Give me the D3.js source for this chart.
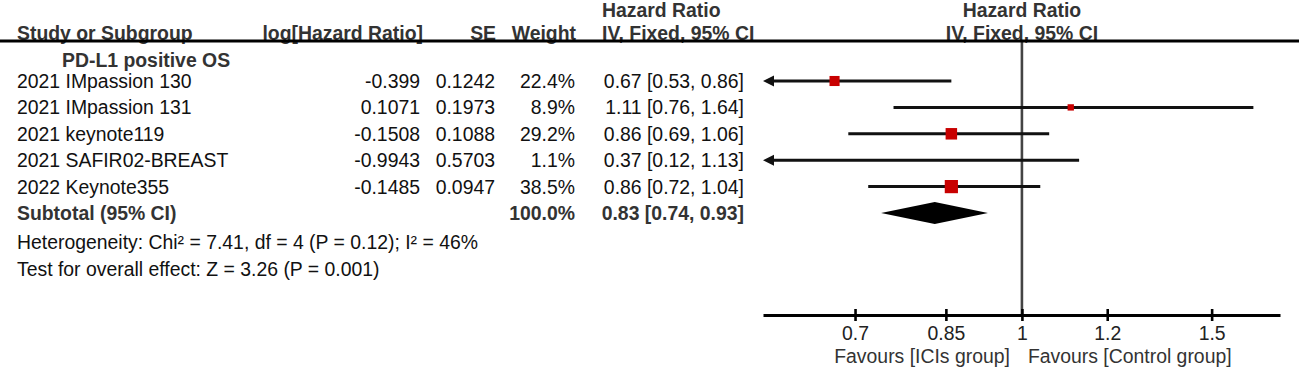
<!DOCTYPE html>
<html><head><meta charset="utf-8">
<script src="https://cdn.jsdelivr.net/npm/d3@7"></script>
<style>
html,body{margin:0;padding:0;background:#fff;}
svg{display:block;font-family:"Liberation Sans",Arial,sans-serif;}
</style></head>
<body>
<svg id="chart" width="1299" height="369"></svg>
<script>
const studies = ["2021 IMpassion 130","2021 IMpassion 131","2021 keynote119","2021 SAFIR02-BREAST","2022 Keynote355"];
const logHR = ["-0.399","0.1071","-0.1508","-0.9943","-0.1485"];
const seVals = ["0.1242","0.1973","0.1088","0.5703","0.0947"];
const weights = [22.4, 8.9, 29.2, 1.1, 38.5];
const hr = [0.67, 1.11, 0.86, 0.37, 0.86];
const ciLow = [0.53, 0.76, 0.69, 0.12, 0.72];
const ciHigh = [0.86, 1.64, 1.06, 1.13, 1.04];
const totalHR = 0.83, totalLow = 0.74, totalHigh = 0.93, totalWeight = 100.0;
const tickValues = [0.7, 0.85, 1, 1.2, 1.5];
const tickLabels = ["0.7","0.85","1","1.2","1.5"];
const groupLabel = "PD-L1 positive OS";
const heterogeneity = "Heterogeneity: Chi² = 7.41, df = 4 (P = 0.12); I² = 46%";
const overallEffect = "Test for overall effect: Z = 3.26 (P = 0.001)";
const favLeft = "Favours [ICIs group]", favRight = "Favours [Control group]";

const svg = d3.select("#chart");
const FS = 19.4;
const x = d3.scaleLog().domain([0.575, 1.736]).range([763, 1280]);
const rowY = i => 81 + i * 26.4;          // text/mark centre
const base = c => c + 7;                   // baseline from centre
const sizeS = d3.scaleSqrt().domain([0, 38.5]).range([0, 13.2]);
const headCol = "#333", bodyCol = "#111";

function txt(s, xx, cy, anchor, bold, col, fs) {
  svg.append("text").attr("x", xx).attr("y", base(cy))
    .attr("text-anchor", anchor || "start")
    .attr("font-size", fs || FS)
    .attr("font-weight", bold ? "bold" : "normal")
    .attr("fill", col || bodyCol).text(s);
}

// headers
txt("Hazard Ratio", 602, 9.5, "start", true, headCol);
txt("Hazard Ratio", x(1), 9.5, "middle", true, headCol);
txt("Study or Subgroup", 17, 33, "start", true, headCol);
txt("log[Hazard Ratio]", 423, 33, "end", true, headCol);
txt("SE", 496, 33, "end", true, headCol);
txt("Weight", 576, 33, "end", true, headCol);
txt("IV, Fixed, 95% CI", 602, 33, "start", true, headCol);
txt("IV, Fixed, 95% CI", x(1), 33, "middle", true, headCol);

// null line
svg.append("line").attr("x1", x(1)).attr("x2", x(1)).attr("y1", 41).attr("y2", 315)
  .attr("stroke", "#444").attr("stroke-width", 2.6);

// header rule
svg.append("line").attr("x1", 0).attr("x2", 1299).attr("y1", 41).attr("y2", 41)
  .attr("stroke", "#000").attr("stroke-width", 3);

txt(groupLabel, 62, 60, "start", true, headCol);

const [dMin, dMax] = x.domain();
studies.forEach((s, i) => {
  const cy = rowY(i);
  txt(s, 17, cy, "start");
  txt(logHR[i], 420, cy, "end");
  txt(seVals[i], 495, cy, "end");
  txt(weights[i].toFixed(1) + "%", 575, cy, "end");
  txt(hr[i].toFixed(2) + " [" + ciLow[i].toFixed(2) + ", " + ciHigh[i].toFixed(2) + "]", 744, cy, "end");

  const lo = Math.max(ciLow[i], dMin), hi = Math.min(ciHigh[i], dMax);
  const x1 = x(lo) + (ciLow[i] < dMin ? 8 : 0);
  const x2 = x(hi) - (ciHigh[i] > dMax ? 8 : 0);
  svg.append("line").attr("x1", x1).attr("x2", x2).attr("y1", cy).attr("y2", cy)
    .attr("stroke", "#111").attr("stroke-width", 3);
  if (ciLow[i] < dMin) {
    const ax = x(dMin);
    svg.append("path").attr("d", `M${ax},${cy} L${ax + 11},${cy - 5.5} L${ax + 11},${cy + 5.5} Z`).attr("fill", "#111");
  }
  if (ciHigh[i] > dMax) {
    const ax = x(dMax);
    svg.append("path").attr("d", `M${ax},${cy} L${ax - 11},${cy - 5.5} L${ax - 11},${cy + 5.5} Z`).attr("fill", "#111");
  }
  if (hr[i] >= dMin && hr[i] <= dMax) {
    const sz = sizeS(weights[i]);
    svg.append("rect").attr("x", x(hr[i]) - sz / 2).attr("y", cy - sz / 2)
      .attr("width", sz).attr("height", sz).attr("fill", "#c80000");
  }
});

// subtotal
const sy = rowY(5);
txt("Subtotal (95% CI)", 17, sy, "start", true, headCol);
txt(totalWeight.toFixed(1) + "%", 575, sy, "end", true, headCol);
txt(totalHR.toFixed(2) + " [" + totalLow.toFixed(2) + ", " + totalHigh.toFixed(2) + "]", 744, sy, "end", true, headCol);
svg.append("path")
  .attr("d", `M${x(totalLow)},${sy} L${x(totalHR)},${sy - 11} L${x(totalHigh)},${sy} L${x(totalHR)},${sy + 11} Z`)
  .attr("fill", "#000");

txt(heterogeneity, 17, 242, "start");
txt(overallEffect, 17, 269, "start");

// axis
const axisY = 315;
const ax = svg.append("g").attr("transform", `translate(0,${axisY})`)
  .call(d3.axisBottom(x).tickValues(tickValues).tickFormat((d, i) => tickLabels[i]).tickSize(0).tickPadding(11));
ax.select(".domain").attr("stroke", "#000").attr("stroke-width", 3);
ax.selectAll(".tick line").remove();
ax.selectAll(".tick").append("line").attr("y1", -6).attr("y2", 6).attr("stroke", "#000").attr("stroke-width", 2.6);
ax.selectAll(".tick text").attr("font-size", FS).attr("fill", "#222")
  .attr("font-family", "'Liberation Sans',Arial,sans-serif");

txt(favLeft, x(1) - 12, 356, "end", false, "#333", FS);
txt(favRight, x(1) + 6, 356, "start", false, "#333", FS);
</script>
</body></html>
